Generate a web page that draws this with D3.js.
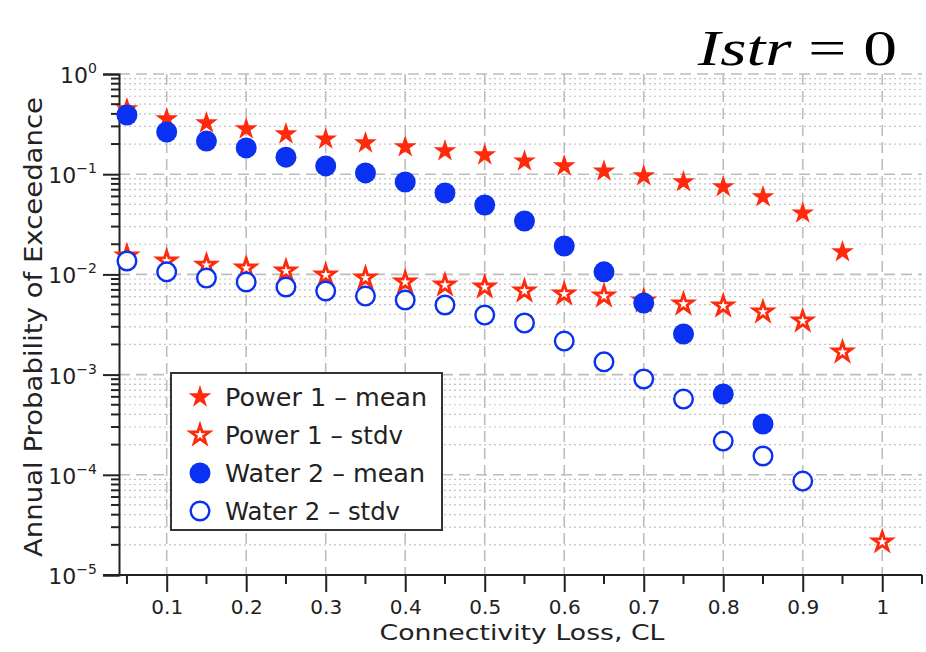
<!DOCTYPE html>
<html>
<head>
<meta charset="utf-8">
<script src="https://cdn.jsdelivr.net/npm/d3@7"></script>
<style>
  body { margin: 0; background: #fff; }
  svg { display: block; }
  .lbl { font-family: "DejaVu Sans", sans-serif; fill: #222; }
</style>
</head>
<body>
<svg id="chart" width="926" height="652"></svg>
<script>
// connectivity loss levels
let clPower = [0.05, 0.1, 0.15, 0.2, 0.25, 0.3, 0.35, 0.4, 0.45, 0.5, 0.55, 0.6, 0.65, 0.7, 0.75, 0.8, 0.85, 0.9, 0.95, 1.0];
let clWater = [0.05, 0.1, 0.15, 0.2, 0.25, 0.3, 0.35, 0.4, 0.45, 0.5, 0.55, 0.6, 0.65, 0.7, 0.75, 0.8, 0.85, 0.9];

// annual probability of exceedance
let powerMean = [0.437, 0.347, 0.317, 0.276, 0.246, 0.219, 0.200, 0.183, 0.167, 0.152, 0.132, 0.118, 0.105, 0.094, 0.082, 0.073, 0.058, 0.040, 0.0164, 0.0000209];
let powerStdv = [0.0149, 0.0133, 0.0121, 0.0113, 0.0106, 0.00964, 0.0090, 0.0082, 0.00766, 0.00731, 0.00667, 0.00623, 0.00595, 0.00530, 0.00495, 0.00473, 0.00412, 0.00335, 0.00164, 0.0000209];
let waterMean = [0.390, 0.264, 0.214, 0.183, 0.148, 0.121, 0.103, 0.0836, 0.0649, 0.0493, 0.0341, 0.0192, 0.0106, 0.00518, 0.00254, 0.00064, 0.000321];
let waterStdv = [0.0136, 0.0106, 0.0092, 0.0084, 0.00749, 0.00683, 0.00608, 0.00555, 0.00495, 0.00393, 0.00327, 0.00216, 0.00134, 0.000904, 0.00057, 0.000217, 0.000154, 0.0000866];

let xTicks = [0.1, 0.2, 0.3, 0.4, 0.5, 0.6, 0.7, 0.8, 0.9, 1];
let xMinorTicks = [0.05, 0.15, 0.25, 0.35, 0.45, 0.55, 0.65, 0.75, 0.85, 0.95, 1.05];
let decades = [0, -1, -2, -3, -4, -5];

let legendNames = ["Power 1 \u2013 mean", "Power 1 \u2013 stdv", "Water 2 \u2013 mean", "Water 2 \u2013 stdv"];
let legendWidths = [202, 178, 200, 175];

const red = "#ff2a0c";
const blue = "#0a30f2";

let svg = d3.select("#chart");

let x = d3.scaleLinear().domain([0.04, 1.05]).range([119, 922]);
let y = d3.scaleLog().domain([1e-5, 1]).range([575, 74]);

// minor y values 2..9 x 10^k
let minorY = [];
for (let k = -5; k < 0; k++) {
    for (let m = 2; m <= 9; m++) minorY.push(m * Math.pow(10, k));
}

// grid
let grid = svg.append("g");
grid.selectAll(".ymin").data(minorY).enter().append("line")
    .attr("x1", x(0.04)).attr("x2", x(1.05))
    .attr("y1", d => y(d)).attr("y2", d => y(d))
    .attr("stroke", "#c4c4c4").attr("stroke-width", 1.2).attr("stroke-dasharray", "2,3");
grid.selectAll(".ymaj").data(decades).enter().append("line")
    .attr("x1", x(0.04)).attr("x2", x(1.05))
    .attr("y1", d => y(Math.pow(10, d))).attr("y2", d => y(Math.pow(10, d)))
    .attr("stroke", "#bdbdbd").attr("stroke-width", 1.6).attr("stroke-dasharray", "11,6");
grid.selectAll(".xmaj").data(xTicks).enter().append("line")
    .attr("x1", d => x(d)).attr("x2", d => x(d))
    .attr("y1", y(1)).attr("y2", y(1e-5))
    .attr("stroke", "#bdbdbd").attr("stroke-width", 1.6).attr("stroke-dasharray", "11,6");

// axes
let xAxis = d3.axisBottom(x).tickValues(xTicks).tickSizeOuter(0).tickSize(17).tickPadding(8)
    .tickFormat(d => d === 1 ? "1" : d3.format(".1f")(d));
let gx = svg.append("g").attr("transform", `translate(0,${y(1e-5)})`).call(xAxis);
gx.select(".domain").attr("d", `M103,0H${x(1.05)}`).attr("stroke", "#222").attr("stroke-width", 2);
gx.selectAll(".tick line").attr("stroke", "#222").attr("stroke-width", 2);
gx.selectAll(".tick text").attr("class", "lbl").attr("font-size", 20);
gx.selectAll(".minor").data(xMinorTicks).enter().append("line")
    .attr("x1", d => x(d)).attr("x2", d => x(d)).attr("y1", 0).attr("y2", 9)
    .attr("stroke", "#222").attr("stroke-width", 2);

let yAxis = d3.axisLeft(y).tickValues(decades.map(d => Math.pow(10, d))).tickSize(16).tickFormat("");
let gy = svg.append("g").attr("transform", `translate(${x(0.04)},0)`).call(yAxis);
gy.select(".domain").attr("stroke", "#222").attr("stroke-width", 2);
gy.selectAll(".tick line").attr("stroke", "#222").attr("stroke-width", 2);
gy.selectAll(".yminor").data(minorY).enter().append("line")
    .attr("x1", -8).attr("x2", 0).attr("y1", d => y(d)).attr("y2", d => y(d))
    .attr("stroke", "#222").attr("stroke-width", 2);

let ylab = svg.append("g").selectAll("text").data(decades).enter().append("text")
    .attr("class", "lbl").attr("x", 97).attr("y", d => y(Math.pow(10, d)) + 9)
    .attr("text-anchor", "end").attr("font-size", 22);
ylab.append("tspan").text("10");
ylab.append("tspan").attr("dy", -10).attr("font-size", 14)
    .text(d => d === 0 ? "0" : "\u2212" + Math.abs(d));

// axis titles
svg.append("text").attr("class", "lbl").attr("x", 522).attr("y", 640).attr("text-anchor", "middle")
    .attr("font-size", 22).attr("textLength", 285).attr("lengthAdjust", "spacingAndGlyphs")
    .text("Connectivity Loss, CL");
svg.append("text").attr("class", "lbl").attr("transform", "translate(42,327) rotate(-90)")
    .attr("text-anchor", "middle").attr("font-size", 24)
    .attr("textLength", 460).attr("lengthAdjust", "spacingAndGlyphs")
    .text("Annual Probability of Exceedance");

// title
let title = svg.append("text").attr("transform", "translate(897,65) scale(1.35,1)")
    .attr("text-anchor", "end").attr("font-size", 50)
    .style("font-family", "'Liberation Serif', serif").style("fill", "#000");
title.append("tspan").attr("font-style", "italic").text("Istr");
title.append("tspan").text(" = 0");

// markers
let star = d3.symbol().type(d3.symbolStar);
let series = [
    { xs: clPower, ys: powerMean, kind: "star", fill: red, stroke: "none" },
    { xs: clPower, ys: powerStdv, kind: "star", fill: "#fff", stroke: red },
    { xs: clWater, ys: waterMean, kind: "circle", fill: blue, stroke: "none" },
    { xs: clWater, ys: waterStdv, kind: "circle", fill: "#fff", stroke: blue }
];

function drawMarker(g, s, cx, cy) {
    if (s.kind === "star") {
        g.append("path").attr("d", star.size(s.stroke === "none" ? 160 : 110)())
            .attr("transform", `translate(${cx},${cy})`)
            .attr("fill", s.fill).attr("stroke", s.stroke).attr("stroke-width", 2.8)
            .attr("stroke-linejoin", "miter");
    } else {
        g.append("circle").attr("cx", cx).attr("cy", cy)
            .attr("r", s.stroke === "none" ? 10.5 : 9.3)
            .attr("fill", s.fill).attr("stroke", s.stroke).attr("stroke-width", 2.4);
    }
}

let marks = svg.append("g");
series.forEach(function(s) {
    s.ys.forEach(function(v, i) {
        drawMarker(marks, s, x(s.xs[i]), y(v) - (s.kind === "star" ? 1 : 0));
    });
});

// legend
let lg = svg.append("g");
lg.append("rect").attr("x", 171).attr("y", 373).attr("width", 271).attr("height", 157)
    .attr("fill", "#fff").attr("stroke", "#333").attr("stroke-width", 2);
series.forEach(function(s, i) {
    let ly = 397 + i * 38;
    drawMarker(lg, s, 200, ly);
    lg.append("text").attr("class", "lbl").attr("x", 225).attr("y", ly + 9)
        .attr("font-size", 24).attr("textLength", legendWidths[i]).attr("lengthAdjust", "spacingAndGlyphs")
        .text(legendNames[i]);
});
</script>
</body>
</html>
